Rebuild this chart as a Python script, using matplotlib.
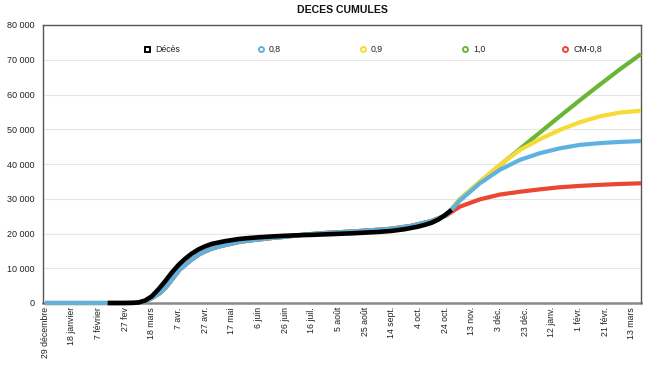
import matplotlib
matplotlib.use("Agg")
import matplotlib.pyplot as plt
from matplotlib.ticker import FuncFormatter, FixedLocator

plt.rcParams['font.family'] = ['Liberation Sans', 'DejaVu Sans']

# ---- data (x = days since 29 Dec 2019) ----
tick_days = list(range(0, 441, 20))
tick_labels = ["29 décembre", "18 janvier", "7 février", "27 fev", "18 mars", "7 avr.",
               "27 avr.", "17 mai", "6 juin", "26 juin", "16 juil.", "5 août", "25 août",
               "14 sept.", "4 oct.", "24 oct.", "13 nov.", "3 déc.", "23 déc.", "12 janv.",
               "1 févr.", "21 févr.", "13 mars"]

deces_days = [47, 55, 60, 65, 70, 75, 80, 85, 90, 95, 100, 105, 110, 115, 120, 125, 130,
              135, 140, 145, 150, 160, 170, 180, 190, 200, 210, 220, 230, 240, 250, 260,
              270, 280, 285, 290, 295, 300, 303, 305]
deces_vals = [0, 0, 0, 10, 150, 700, 1900, 3900, 6200, 8700, 10900, 12700, 14200, 15400,
              16300, 17000, 17400, 17800, 18100, 18400, 18600, 18900, 19150, 19350, 19500,
              19600, 19750, 19900, 20050, 20250, 20450, 20750, 21250, 22000, 22500, 23100,
              24000, 25300, 26200, 26800]

# shared model trajectory up to the divergence point
common_days = [0, 60, 70, 75, 79, 86, 90, 94, 101, 109, 116, 124, 131, 139, 146, 154, 161,
               170, 180, 191, 200, 210, 229, 245, 259, 274, 289, 296, 301]
common_vals = [0, 0, 100, 500, 1150, 2800, 4200, 6150, 9600, 12200, 14100, 15500, 16300,
               17000, 17600, 18000, 18300, 18700, 19050, 19550, 19850, 20150, 20550, 20950,
               21350, 22150, 23500, 24500, 25200]

branch_days = [311, 326, 341, 356, 371, 386, 401, 416, 431, 447]
r08_vals = [29400, 34400, 38300, 41150, 43100, 44500, 45500, 46000, 46350, 46600]
r09_vals = [29600, 34900, 39700, 44000, 47100, 49800, 52000, 53700, 54800, 55340]
r10_vals = [29800, 34800, 39600, 44300, 49000, 53700, 58300, 62800, 67200, 71650]
cm08_vals = [27700, 29800, 31200, 32000, 32700, 33300, 33700, 34000, 34250, 34450]

series_names = ["0,8", "0,9", "1,0", "CM-0,8"]
series_colors = {"0,8": "#5fb2e0", "0,9": "#f7da35", "1,0": "#69b634", "CM-0,8": "#ea4630"}

fig = plt.figure(figsize=(6.61, 3.68), dpi=100)
ax = fig.add_axes([43 / 661, 1 - 303 / 368, (641 - 43) / 661, (303 - 25) / 368])

for name, vals in [("1,0", r10_vals), ("0,9", r09_vals), ("CM-0,8", cm08_vals), ("0,8", r08_vals)]:
    ax.plot(common_days + branch_days, common_vals + vals, color=series_colors[name],
            lw=3.0, solid_capstyle='butt', solid_joinstyle='round', clip_on=False,
            zorder=4 if name == "0,8" else 3)

ax.plot(deces_days, deces_vals, color='black', lw=3.3, solid_capstyle='butt',
        solid_joinstyle='round', clip_on=False, zorder=5)

ax.set_xlim(-1.5, 447)
ax.set_ylim(0, 80000)
ax.yaxis.set_major_locator(FixedLocator(range(0, 80001, 10000)))
ax.yaxis.set_major_formatter(FuncFormatter(lambda v, p: f"{int(v):,}".replace(",", " ")))
ax.set_xticks(tick_days)
ax.set_xticklabels(tick_labels, rotation=90, fontsize=6.3, color='#222222')
ax.tick_params(axis='y', labelsize=6.5, length=0, pad=6, labelcolor='#222222')
ax.tick_params(axis='x', length=0, pad=3)
ax.grid(axis='y', color='#e6e6e6', lw=0.8)
ax.set_axisbelow(True)
for s in ['left', 'top', 'right']:
    ax.spines[s].set_color('#555555')
    ax.spines[s].set_linewidth(1.0)
ax.spines['bottom'].set_color('#8a8a8a')
ax.spines['bottom'].set_linewidth(1.8)
ax.spines['bottom'].set_zorder(1)

fig.text(342 / 661, 1 - 10 / 368, "DECES CUMULES", ha='center', va='center',
         fontsize=7.6, fontweight='bold', color='#111111')

# legend row
leg_items = [("Décès", 'black', 's')] + [(n, series_colors[n], 'o') for n in series_names]
leg_x = [147, 261, 363, 465, 565]
ly = 1 - 49 / 368
for (lab, col, mk), px in zip(leg_items, leg_x):
    fig.lines.append(plt.Line2D([px / 661], [ly], transform=fig.transFigure, marker=mk,
                                markersize=3.6, markerfacecolor='white', markeredgecolor=col,
                                markeredgewidth=1.4, linestyle='none'))
    fig.text((px + 8) / 661, ly, lab, ha='left', va='center', fontsize=6.3, color='#222222')

fig.savefig("out.png", dpi=100, facecolor='white')
